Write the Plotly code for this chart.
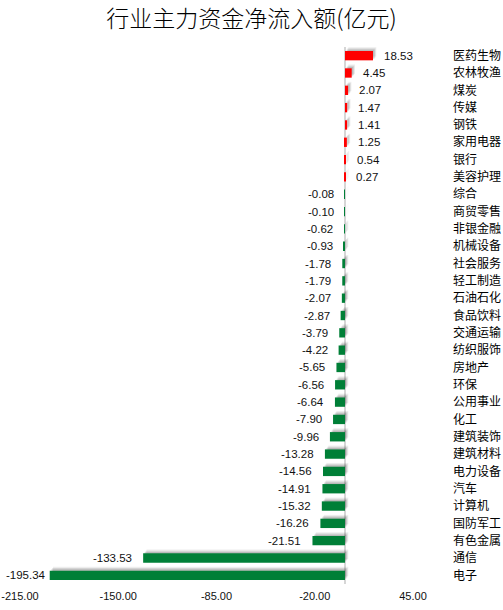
import plotly.graph_objects as go

categories = ["医药生物", "农林牧渔", "煤炭", "传媒", "钢铁", "家用电器", "银行", "美容护理",
              "综合", "商贸零售", "非银金融", "机械设备", "社会服务", "轻工制造", "石油石化",
              "食品饮料", "交通运输", "纺织服饰", "房地产", "环保", "公用事业", "化工",
              "建筑装饰", "建筑材料", "电力设备", "汽车", "计算机", "国防军工", "有色金属",
              "通信", "电子"]
values = [18.53, 4.45, 2.07, 1.47, 1.41, 1.25, 0.54, 0.27,
          -0.08, -0.10, -0.62, -0.93, -1.78, -1.79, -2.07,
          -2.87, -3.79, -4.22, -5.65, -6.56, -6.64, -7.90,
          -9.96, -13.28, -14.56, -14.91, -15.32, -16.26, -21.51,
          -133.53, -195.34]
tick_vals = [-215, -150, -85, -20, 45]
tick_text = [f"{t:.2f}" for t in tick_vals]

RED = "#FF0000"
GREEN = "#007F37"
colors = [RED if v > 0 else GREEN for v in values]
W = 0.54
n = len(values)

fig = go.Figure()
# soft shadow layers
for dy, dx, a in [(-0.22, 2.2, 0.07), (-0.15, 1.6, 0.10), (-0.08, 1.0, 0.12)]:
    fig.add_trace(go.Bar(
        y=categories, x=values, base=[dx] * n, orientation="h",
        width=W, offset=-W / 2 + dy,
        marker=dict(color=f"rgba(0,0,0,{a})", line_width=0),
        hoverinfo="skip", showlegend=False))
fig.add_trace(go.Bar(
    y=categories, x=values, orientation="h", width=W, offset=-W / 2,
    marker=dict(color=colors, line_width=0), showlegend=False))

annotations = []
for c, v in zip(categories, values):
    if v >= 0:
        xa, xs = "left", 9
    else:
        xa, xs = "right", -9 if v > -190 else -2
    annotations.append(dict(
        x=v, y=c, xref="x", yref="y", text=f"{v:.2f}", showarrow=False,
        xanchor=xa, xshift=xs, yanchor="middle",
        font=dict(family="Liberation Sans", size=11.5, color="#111111")))

fig.update_layout(
    width=503, height=610,
    margin=dict(l=20, r=90, t=47, b=26),
    paper_bgcolor="white", plot_bgcolor="white",
    barmode="overlay",
    title=dict(text="行业主力资金净流入额(亿元)", x=0.5, xanchor="center",
               xref="container", y=0.969, yanchor="middle",
               font=dict(family="Noto Sans CJK SC", size=23, color="#000000",
                         weight=300)),
    annotations=annotations,
    xaxis=dict(range=[-215.001, 45.001], tickvals=tick_vals, ticktext=tick_text,
               automargin=False, ticklabeloverflow="allow", ticklabelstandoff=4,
               showgrid=False, zeroline=True, zerolinecolor="#D6D6D6",
               zerolinewidth=1.5, showline=False, ticks="",
               tickfont=dict(family="Liberation Sans", size=11, color="#111111")),
    yaxis=dict(type="category", autorange="reversed", side="right",
               automargin=False,
               showgrid=False, zeroline=False, showline=False, ticks="",
               ticklabelstandoff=39,
               tickfont=dict(family="Noto Sans CJK SC", size=12, color="#000000")),
)

fig.write_html("out.html")
